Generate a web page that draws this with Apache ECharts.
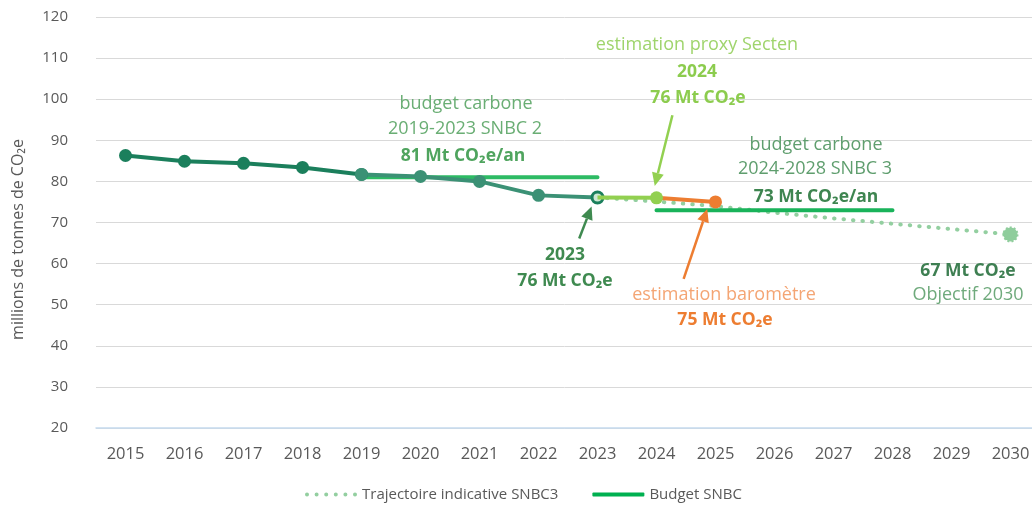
<!DOCTYPE html>
<html>
<head>
    <meta charset="UTF-8">
    <title>Emissions SNBC</title>
    <script src="https://cdn.jsdelivr.net/npm/echarts@6/dist/echarts.min.js"></script>
    <style>html,body{margin:0;padding:0;background:#fff;} #chart{width:1032px;height:510px;}</style>
</head>
<body>
<div id="chart"></div>
<script>
    // années (axe x)
    var years = ['2015','2016','2017','2018','2019','2020','2021','2022','2023','2024','2025','2026','2027','2028','2029','2030'];
    // émissions historiques (Mt CO2e)
    var hist1 = [86.3, 84.9, 84.4, 83.4, 81.7, '-', '-', '-', '-', '-', '-', '-', '-', '-', '-', '-'];
    var hist2 = ['-', '-', '-', '-', 81.7, 81.2, 80.0, 76.6, 76.1, '-', '-', '-', '-', '-', '-', '-'];
    // estimations
    var secten = ['-', '-', '-', '-', '-', '-', '-', '-', 76.1, 76.0, '-', '-', '-', '-', '-', '-'];
    var barometre = ['-', '-', '-', '-', '-', '-', '-', '-', '-', 76.0, 75.0, '-', '-', '-', '-', '-'];
    // trajectoire SNBC3
    var trajectoire = ['-', '-', '-', '-', '-', '-', '-', '-', 76.1, 75.1, 74.0, 72.4, 71.0, 69.7, 68.4, 67.1];
    // budgets carbone
    var budget2 = ['-', '-', '-', '-', 81, 81, 81, 81, 81, '-', '-', '-', '-', '-', '-', '-'];
    var budget3 = ['-', '-', '-', '-', '-', '-', '-', '-', '-', 73, 73, 73, 73, 73, '-', '-'];
    var objectif = ['-', '-', '-', '-', '-', '-', '-', '-', '-', '-', '-', '-', '-', '-', '-', 67.1];

    var FONT = '"Open Sans"';
    var myChart = echarts.init(document.getElementById('chart'));

    // icône pointillée de la légende : 6 petits ronds
    var dotsIcon = 'path://';
    for (var k = 0; k < 6; k++) {
        var cx = 2 + k * 9.6;
        dotsIcon += 'M' + (cx - 2) + ',2a2,2 0 1,0 4,0a2,2 0 1,0 -4,0z';
    }

    var option = {
        animation: false,
        textStyle: {fontFamily: FONT},
        grid: {left: 96, right: -8, top: 17, bottom: 82, outerBoundsMode: 'none', containLabel: false},
        legend: {
            top: 482,
            left: 300,
            itemWidth: 52,
            itemHeight: 4,
            itemGap: 34,
            textStyle: {color: '#595959', fontSize: 15, fontFamily: FONT},
            data: [
                {name: 'Trajectoire indicative SNBC3', icon: dotsIcon},
                {name: 'Budget SNBC', icon: 'roundRect'}
            ]
        },
        xAxis: {
            type: 'category',
            data: years,
            boundaryGap: true,
            axisTick: {show: false},
            axisLine: {lineStyle: {color: '#c5daee', width: 1.5}},
            axisLabel: {color: '#595959', fontSize: 16.5, margin: 18}
        },
        yAxis: {
            type: 'value',
            min: 20,
            max: 120,
            interval: 10,
            name: 'millions de tonnes de CO₂e',
            nameLocation: 'middle',
            nameGap: 70,
            nameTextStyle: {color: '#595959', fontSize: 16, padding: [0, 34, 0, 0]},
            axisLabel: {color: '#595959', fontSize: 15, margin: 28},
            splitLine: {lineStyle: {color: '#d9d9d9'}}
        },
        series: [
            {
                name: 'Trajectoire indicative SNBC3',
                type: 'line',
                data: trajectoire,
                symbol: 'none',
                z: 1,
                lineStyle: {color: '#93cfa0', width: 4, type: [0.5, 9], cap: 'round'},
                itemStyle: {color: '#93cfa0'}
            },
            {
                name: 'objectif',
                type: 'line',
                data: objectif,
                symbol: 'circle',
                symbolSize: 14,
                z: 2,
                itemStyle: {color: '#8fcd9c', borderColor: '#8fcd9c', borderWidth: 2, borderType: [2, 2]}
            },
            {
                name: 'Budget SNBC',
                type: 'line',
                data: budget2,
                symbol: 'none',
                z: 3,
                lineStyle: {color: '#2dbb64', width: 4, cap: 'round'},
                itemStyle: {color: '#00b050'}
            },
            {
                name: 'Budget SNBC',
                type: 'line',
                data: budget3,
                symbol: 'none',
                z: 3,
                lineStyle: {color: '#19b35a', width: 4, cap: 'round'},
                itemStyle: {color: '#00b050'}
            },
            {
                name: 'hist1',
                type: 'line',
                data: hist1,
                symbol: 'circle',
                symbolSize: 13,
                z: 4,
                lineStyle: {color: '#1b7f5c', width: 4},
                itemStyle: {color: '#1b7f5c'}
            },
            {
                name: 'hist2',
                type: 'line',
                data: hist2.map(function (v, i) {
                    if (i === 8) {
                        return {value: v, symbolSize: 11, itemStyle: {color: '#cfe8d5', borderColor: '#1b7f5c', borderWidth: 3}};
                    }
                    return v;
                }),
                symbol: 'circle',
                symbolSize: 13,
                z: 4,
                lineStyle: {color: '#3b9175', width: 4},
                itemStyle: {color: '#3b9175'}
            },
            {
                name: 'secten',
                type: 'line',
                data: secten.map(function (v, i) {
                    return i === 8 ? {value: v, symbol: 'none'} : v;
                }),
                symbol: 'circle',
                symbolSize: 13,
                z: 5,
                lineStyle: {color: '#92d050', width: 4},
                itemStyle: {color: '#92d050'}
            },
            {
                name: 'barometre',
                type: 'line',
                data: barometre.map(function (v, i) {
                    return i === 9 ? {value: v, symbol: 'none'} : v;
                }),
                symbol: 'circle',
                symbolSize: 13,
                z: 4,
                lineStyle: {color: '#ed7d31', width: 4},
                itemStyle: {color: '#ed7d31'}
            }
        ]
    };
    myChart.setOption(option);

    // position en pixels d'une année fractionnaire (index de catégorie) et d'une valeur
    function px(idx, val) {
        var i0 = Math.floor(idx), i1 = Math.min(i0 + 1, years.length - 1);
        var p0 = myChart.convertToPixel({gridIndex: 0}, [i0, val]);
        var p1 = myChart.convertToPixel({gridIndex: 0}, [i1, val]);
        var f = idx - i0;
        return [p0[0] + (p1[0] - p0[0]) * f, p0[1]];
    }

    function arrow(from, to, color) {
        var a = px(from[0], from[1]), b = px(to[0], to[1]);
        var ang = Math.atan2(b[1] - a[1], b[0] - a[0]);
        var len = 13, w = 6;
        var bx = b[0] - Math.cos(ang) * len, by = b[1] - Math.sin(ang) * len;
        var nx = -Math.sin(ang) * w, ny = Math.cos(ang) * w;
        return [
            {type: 'line', z: 10, shape: {x1: a[0], y1: a[1], x2: bx, y2: by}, style: {stroke: color, lineWidth: 2.5}},
            {type: 'polygon', z: 10, shape: {points: [[b[0], b[1]], [bx + nx, by + ny], [bx - nx, by - ny]]}, style: {fill: color}}
        ];
    }

    function label(x, y, txt, color, bold) {
        return {
            type: 'text', z: 10, x: x, y: y,
            style: {
                text: txt, fill: color, font: (bold ? 'bold 17.5px ' : '18px ') + FONT,
                textAlign: 'center', textVerticalAlign: 'middle'
            }
        };
    }

    var g = [];
    g = g.concat(arrow([9.27, 96.1], [8.97, 78.9], '#92d050'));
    g = g.concat(arrow([7.69, 66.1], [7.9, 73.9], '#3f8a50'));
    g = g.concat(arrow([9.46, 56.3], [9.86, 73.3], '#ed7d31'));
    g.push(label(466, 104, 'budget carbone', '#6aae74', false));
    g.push(label(465, 129, '2019-2023 SNBC 2', '#6aae74', false));
    g.push(label(463, 156, '81 Mt CO₂e/an', '#4fa45e', true));
    g.push(label(697, 45, 'estimation proxy Secten', '#9fd46c', false));
    g.push(label(697, 72, '2024', '#8ccc4e', true));
    g.push(label(698, 98, '76 Mt CO₂e', '#8ccc4e', true));
    g.push(label(816, 145, 'budget carbone', '#5f9e6e', false));
    g.push(label(815, 169, '2024-2028 SNBC 3', '#5f9e6e', false));
    g.push(label(816, 197, '73 Mt CO₂e/an', '#3e8550', true));
    g.push(label(565, 255, '2023', '#3f8a50', true));
    g.push(label(565, 281, '76 Mt CO₂e', '#3f8a50', true));
    g.push(label(724, 295, 'estimation baromètre', '#f4a574', false));
    g.push(label(725, 320, '75 Mt CO₂e', '#ed7d31', true));
    g.push(label(968, 271, '67 Mt CO₂e', '#3e7f52', true));
    g.push(label(968, 295, 'Objectif 2030', '#6faa7c', false));

    myChart.setOption({graphic: {elements: g}});
</script>
</body>
</html>
